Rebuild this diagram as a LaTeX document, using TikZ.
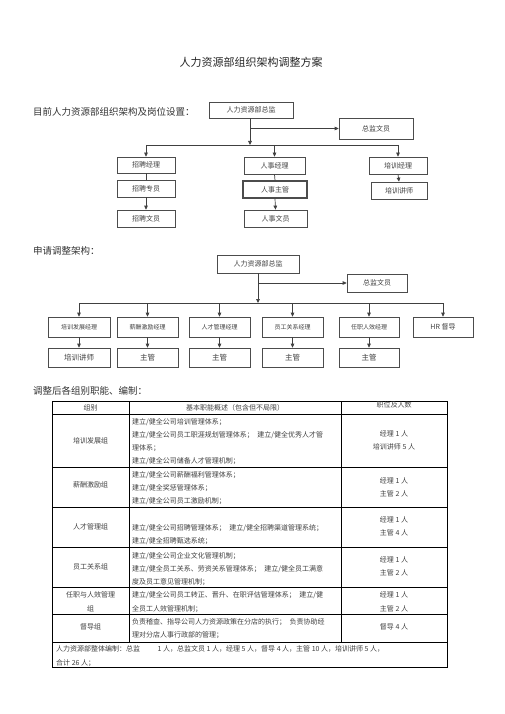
\documentclass[tikz,border=0pt]{standalone}
\usepackage{fontspec}
\setmainfont{Noto Sans CJK SC}
\usepackage{tikz}
\usetikzlibrary{arrows.meta,positioning}

\begin{document}
\begin{tikzpicture}[
  x=1pt, y=-1pt,
  >={Triangle[length=4pt,width=3.6pt]},
  post/.style={
    draw=black!70,
    fill=white,
    line width=0.7pt,
    inner sep=0pt,
    text=black!75,
    font=\fontsize{7}{8}\selectfont
  },
  postsmall/.style={
    post,
    font=\fontsize{6}{7}\selectfont
  },
  link/.style={
    line width=0.7pt,
    black!75
  },
  feed/.style={
    link,
    ->
  },
  grid/.style={
    line width=0.7pt,
    black
  },
  cell/.style={
    inner sep=0pt,
    anchor=west,
    align=left,
    text=black!75,
    font=\fontsize{7}{13}\selectfont
  },
  mid/.style={
    cell,
    anchor=center,
    align=center
  },
  heading/.style={
    inner sep=0pt,
    anchor=west,
    text=black!80,
    font=\fontsize{9.5}{11}\selectfont
  }
]
\useasboundingbox[fill=white] (0,0) rectangle (505,714);

\node[inner sep=0pt, text=black!85, font=\fontsize{11}{12}\selectfont] (title) at (251,62)
  {人力资源部组织架构调整方案};

% Current structure
\node[heading] (nowlabel) at (33,112) {目前人力资源部组织架构及岗位设置：};

\node[post, minimum width=84, minimum height=16] (dirA) at (251,110) {人力资源部总监};
\node[post, minimum width=74, minimum height=21] (clerkA) at (376,128.5) {总监文员};

\node[post, minimum width=58, minimum height=16] (recMgr) at (146,165) {招聘经理};
\node[post, minimum width=58, minimum height=17] (recSpec) at (146,188.5) {招聘专员};
\node[post, minimum width=58, minimum height=17] (recClerk) at (146,218.5) {招聘文员};

\node[post, minimum width=61, minimum height=17] (perMgr) at (274.5,165.5) {人事经理};
\node[post, line width=1.1pt, minimum width=64, minimum height=17] (perSup) at (275,189.5) {人事主管};
\node[post, minimum width=63, minimum height=17] (perClerk) at (275.5,218.5) {人事文员};

\node[post, minimum width=58, minimum height=17] (trnMgr) at (398,165.5) {培训经理};
\node[post, minimum width=56, minimum height=17] (trnLect) at (399,190.5) {培训讲师};

\coordinate (busA) at (250,145);

\draw[feed] (dirA.south -| busA) -- (busA);
\draw[feed] (dirA.south |- clerkA.west) -- (clerkA.west);
\draw[link] (busA -| recMgr) -- (busA -| trnMgr);
\draw[feed] (busA -| recMgr) -- (recMgr.north);
\draw[feed] (busA -| perMgr) -- (perMgr.north);
\draw[feed] (busA -| trnMgr) -- (trnMgr.north);

\draw[link] (recMgr.south) -- (recSpec.north);
\draw[feed] (recSpec.south) -- (recClerk.north);
\draw[link] (perMgr.south) -- (perSup.north);
\draw[feed] (perSup.south) -- (perClerk.north);
\draw[feed] (trnMgr.south) -- (trnLect.north);

% Proposed structure
\node[heading] (newlabel) at (33,251) {申请调整架构：};

\node[post, minimum width=82, minimum height=18] (dirB) at (258,264) {人力资源部总监};
\node[post, minimum width=60, minimum height=18] (clerkB) at (377,283) {总监文员};

\node[postsmall, minimum width=62, minimum height=20] (devMgr) at (79,327) {培训发展经理};
\node[postsmall, minimum width=61, minimum height=20] (payMgr) at (147.5,327) {薪酬激励经理};
\node[postsmall, minimum width=61, minimum height=20] (talMgr) at (219.5,327) {人才管理经理};
\node[postsmall, minimum width=61, minimum height=20] (relMgr) at (292.5,327) {员工关系经理};
\node[postsmall, minimum width=60, minimum height=20] (effMgr) at (369,327) {任职人效经理};
\node[post, minimum width=60, minimum height=20] (hrSup) at (443,327) {HR 督导};

\node[post, font=\fontsize{7.5}{8}\selectfont, minimum width=62, minimum height=19] (devLect) at (79,357.5) {培训讲师};
\node[post, font=\fontsize{7.5}{8}\selectfont, minimum width=61, minimum height=19] (paySup) at (147.5,357.5) {主管};
\node[post, font=\fontsize{7.5}{8}\selectfont, minimum width=61, minimum height=19] (talSup) at (219.5,357.5) {主管};
\node[post, font=\fontsize{7.5}{8}\selectfont, minimum width=61, minimum height=19] (relSup) at (292.5,357.5) {主管};
\node[post, font=\fontsize{7.5}{8}\selectfont, minimum width=60, minimum height=19] (effSup) at (369,357.5) {主管};

\coordinate (busB) at (258,303);

\draw[feed] (dirB.south) -- (busB);
\draw[feed] (dirB.south |- clerkB.west) -- (clerkB.west);
\draw[link] (busB -| devMgr) -- (busB -| hrSup);
\foreach \m in {devMgr,payMgr,talMgr,relMgr,effMgr,hrSup}
  \draw[feed] (busB -| \m) -- (\m.north);

\draw[feed] (devMgr.south) -- (devLect.north);
\draw[feed] (payMgr.south) -- (paySup.north);
\draw[feed] (talMgr.south) -- (talSup.north);
\draw[feed] (relMgr.south) -- (relSup.north);
\draw[feed] (effMgr.south) -- (effSup.north);

% Functions and headcount table
\node[heading] (tablabel) at (33,391) {调整后各组别职能、编制：};

\draw[grid] (52,401) rectangle (447,667);
\foreach \y in {414,467,507,547,587,614,642}
  \draw[grid] (52,\y) -- (447,\y);
\draw[grid] (129,401) -- (129,642);
\draw[grid] (341,401) -- (341,642);

\node[mid] (hgroup) at (90.5,407.5) {组别};
\node[mid] (hduty) at (235,407.5) {基本职能概述（包含但不局限）};
\node[mid] (hstaff) at (394,405) {职位及人数};

\node[mid] (g1) at (90.5,441) {培训发展组};
\node[mid] (g2) at (90.5,485) {薪酬激励组};
\node[mid] (g3) at (90.5,527) {人才管理组};
\node[mid] (g4) at (90.5,567) {员工关系组};
\node[mid, font=\fontsize{7}{14}\selectfont] (g5) at (90.5,602) {任职与人效管理\\组};
\node[mid] (g6) at (90.5,627) {督导组};

\node[cell] (d1) at (132,441.5)
  {建立/健全公司培训管理体系；\\
   建立/健全公司员工职涯规划管理体系；\enspace 建立/健全优秀人才管\\
   理体系；\\
   建立/健全公司储备人才管理机制；};
\node[cell] (d2) at (132,488.5)
  {建立/健全公司薪酬福利管理体系；\\
   建立/健全奖惩管理体系；\\
   建立/健全公司员工激励机制；};
\node[cell] (d3) at (132,535)
  {建立/健全公司招聘管理体系；\enspace 建立/健全招聘渠道管理系统；\\
   建立/健全招聘甄选系统；};
\node[cell] (d4) at (132,569)
  {建立/健全公司企业文化管理机制；\\
   建立/健全员工关系、劳资关系管理体系；\enspace 建立/健全员工满意\\
   度及员工意见管理机制；};
\node[cell, font=\fontsize{7}{14}\selectfont] (d5) at (132,602)
  {建立/健全公司员工转正、晋升、在职评估管理体系；\enspace 建立/健\\
   全员工人效管理机制；};
\node[cell] (d6) at (132,628.5)
  {负责稽查、指导公司人力资源政策在分店的执行；\enspace 负责协助经\\
   理对分店人事行政部的管理；};

\node[mid] (n1) at (394,440) {经理 1 人\\培训讲师 5 人};
\node[mid] (n2) at (394,487) {经理 1 人\\主管 2 人};
\node[mid] (n3) at (394,526.5) {经理 1 人\\主管 4 人};
\node[mid] (n4) at (394,566.5) {经理 1 人\\主管 2 人};
\node[mid, font=\fontsize{7}{14}\selectfont] (n5) at (394,602) {经理 1 人\\主管 2 人};
\node[mid] (n6) at (394,627) {督导 4 人};

\node[cell, font=\fontsize{7}{14}\selectfont] (total) at (56,656)
  {人力资源部整体编制：总监\qquad\enspace 1 人，总监文员 1 人，经理 5 人，督导 4 人，主管 10 人，培训讲师 5 人，\\
   合计 26 人；};
\end{tikzpicture}
\end{document}
